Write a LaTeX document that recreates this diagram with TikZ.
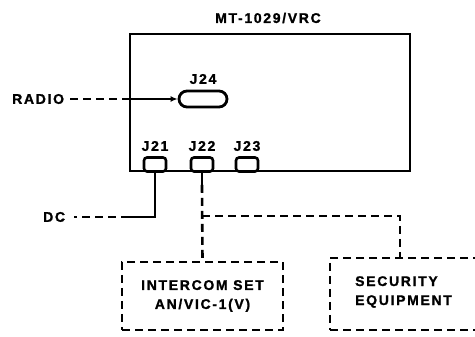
\documentclass[tikz,border=0pt]{standalone}
\usepackage{fontspec}
\setmainfont{Liberation Sans}
\usepackage{tikz}
\usetikzlibrary{arrows.meta, positioning, calc}
\newcommand{\lblfont}{\fontsize{14}{16}\selectfont\bfseries\addfontfeature{LetterSpace=12,FakeBold=1.2}}

\begin{document}
\begin{tikzpicture}[x=1pt, y=-1pt,
  lbl/.style     = {font=\lblfont, inner sep=0pt},
  unitbox/.style = {draw, line width=2.8pt, minimum width=280pt, minimum height=137pt, inner sep=0pt},
  jack/.style    = {draw, line width=2.6pt, rounded corners=3pt, minimum width=22pt, minimum height=14pt, inner sep=0pt},
  equip/.style   = {draw, line width=2.6pt, dash pattern=on 8pt off 5pt, align=center, inner sep=0pt, font=\lblfont},
  sol/.style     = {line width=2.6pt},
  dsh/.style     = {line width=2.6pt, dash pattern=on 8pt off 5pt}
]
\useasboundingbox (0,0) rectangle (475,337);

\node[lbl] (title) at (268,18) {MT-1029/VRC};
\node[unitbox] (unit) at (270,102.5) {};

\node[draw, line width=2.8pt, rounded corners=8pt, minimum width=48pt, minimum height=16pt, inner sep=0pt] (j24) at (203,99) {};
\node[lbl] (j24l) at (203,79) {J24};

\node[jack] (j21) at (155,164.5) {};
\node[jack] (j22) at (202,164.5) {};
\node[jack] (j23) at (247,164.5) {};
\node[lbl] (j21l) at (155,146) {J21};
\node[lbl] (j22l) at (202,146) {J22};
\node[lbl] (j23l) at (247,146) {J23};

\node[lbl, anchor=west] (radio) at (12,99) {RADIO};
\node[lbl, anchor=west] (dc) at (43,217) {DC};

\node[equip, minimum width=161pt, minimum height=68pt] (intercom) at (202.5,296) {INTERCOM SET\\[3pt]AN/VIC-1(V)};
\node[equip, minimum width=150pt, minimum height=72pt] (security) at (405,294) {};
\node[lbl, align=left, anchor=west] (secl) at (355,292) {SECURITY\\[3pt]EQUIPMENT};

\coordinate (rin) at (unit.west |- j24.west);
\coordinate (dcbend) at (j21.south |- dc.east);
\coordinate (dcin) at (unit.west |- dc.east);
\coordinate (j22end) at ($(j22.south)+(0,12)$);
\coordinate (branch) at (j22.south |- 0,216);

\draw[dsh] ($(radio.east)+(6,0)$) -- (rin);
\draw[sol, -{Latex[length=7pt,width=6pt]}] (rin) -- (j24.west);

\draw[sol] (j21.south) -- (dcbend) -- (dcin);
\draw[dsh] (dcin) -- ($(dc.east)+(9,0)$);

\draw[sol] (j22.south) -- (j22end);
\draw[dsh] (j22end) -- (intercom.north);
\draw[dsh] (branch) -| ([xshift=-5pt]security.north);
\end{tikzpicture}
\end{document}
